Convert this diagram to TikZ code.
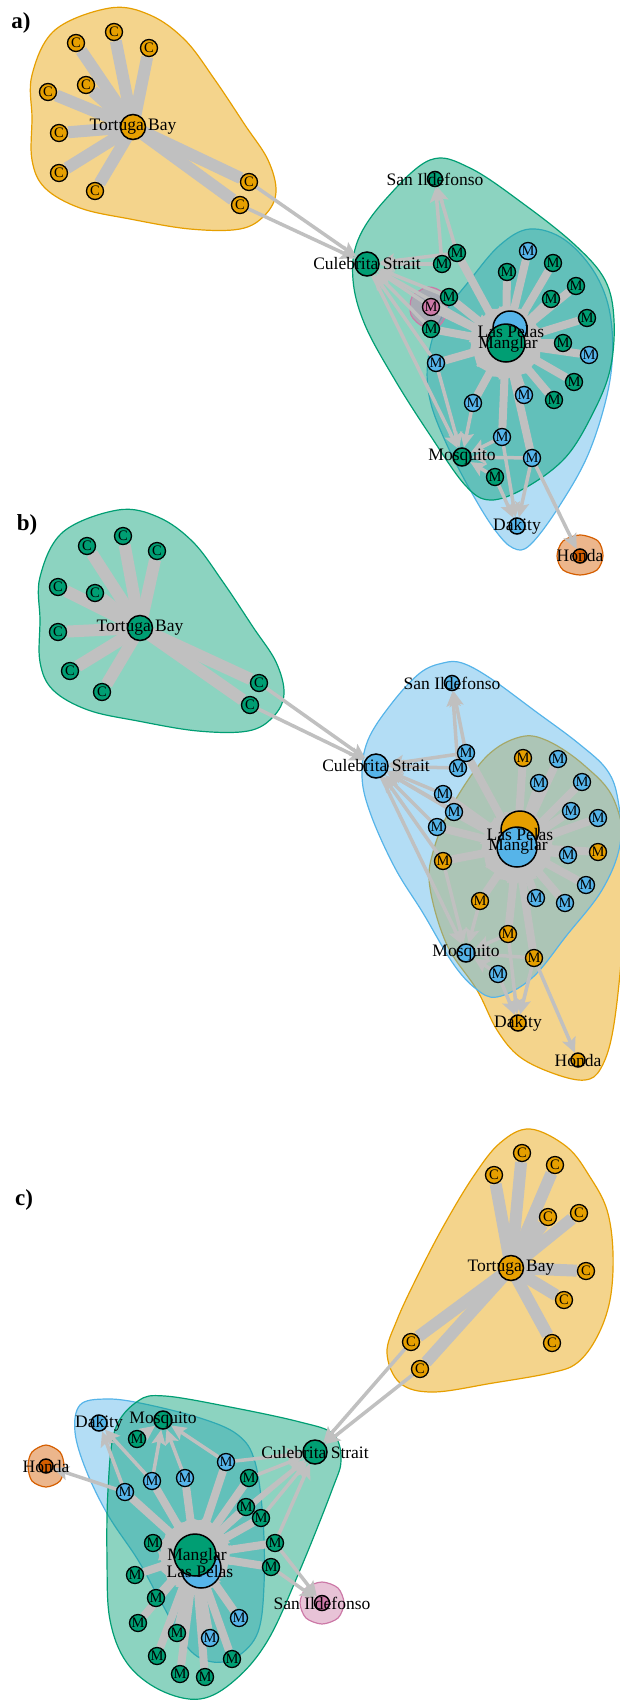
\documentclass[tikz,border=0pt]{standalone}
\usepackage{fontspec}
\setmainfont{Liberation Serif}
\usetikzlibrary{arrows.meta}
\definecolor{corange}{HTML}{E69F00}
\definecolor{cgreen}{HTML}{009E73}
\definecolor{cblue}{HTML}{56B4E9}
\definecolor{cpink}{HTML}{CC79A7}
\definecolor{cred}{HTML}{D55E00}
\definecolor{edgegray}{RGB}{192,192,192}
\pgfdeclarelayer{hulls}
\pgfdeclarelayer{edges}
\pgfdeclarelayer{labels}
\pgfsetlayers{hulls,edges,main,labels}

\tikzset{
  hull/.style={draw=#1, fill=#1, fill opacity=0.45, line width=1.2pt},
  snode/.style={circle, draw, line width=1.3pt, fill=#1, minimum size=17pt, inner sep=0pt, font=\fontsize{14.5}{14.5}\selectfont},
  hub/.style={circle, draw, line width=1.5pt, fill=#1, inner sep=0pt},
  lbl/.style={font=\fontsize{17.5}{17.5}\selectfont, inner sep=0pt},
  fan/.style={draw=edgegray, line width=12pt},
  spoke/.style={draw=edgegray, line width=8pt, -{Triangle[length=34pt,width=28pt]}},
  link/.style={draw=edgegray, line width=3.5pt, -{Stealth[length=15pt,width=14pt,inset=3pt]}},
  panel/.style={font=\fontsize{23}{23}\selectfont\bfseries, inner sep=0pt}
}

\begin{document}
\begin{tikzpicture}[x=1pt, y=-1pt]
\useasboundingbox (0,0) rectangle (619,1701);

% ---------- a)
\node[panel] (pa) at (21,23) {a)};
\begin{pgfonlayer}{hulls}
  \draw[hull=corange] plot[smooth cycle, tension=0.6] coordinates {(32,75) (55,30) (110,8) (150,15) (185,40) (215,80) (245,125) (268,160) (276,192) (265,215) (240,229) (190,229) (130,219) (80,208) (45,188) (32,160) (32,118)};
  \draw[hull=cblue] plot[smooth cycle, tension=0.6] coordinates {(530,229) (565,240) (596,275) (611,320) (610,380) (590,450) (560,505) (530,545) (513,548) (495,530) (473,495) (447,445) (430,400) (428,360) (440,320) (470,280) (500,245)};
  \draw[hull=cgreen] plot[smooth cycle, tension=0.6] coordinates {(430,160) (470,168) (525,205) (575,245) (605,280) (614,320) (610,370) (592,415) (565,458) (525,488) (490,500) (465,485) (430,435) (395,380) (365,325) (353,280) (358,240) (385,200)};
  \draw[hull=cpink] plot[smooth cycle] coordinates {(428,287) (443,293) (447,310) (440,325) (424,327) (411,315) (412,297)};
  \draw[hull=cred] plot[smooth cycle] coordinates {(580,535) (598,541) (603,556) (597,570) (580,575) (563,570) (557,556) (563,541)};
\end{pgfonlayer}

\node[hub=corange, minimum size=25pt] (aTB) at (133,127) {};
\foreach \n/\x/\y in {1/76/43, 2/114/32, 3/149/48, 4/86/85, 5/48/92, 6/59/133, 7/59/173, 8/95/191, 9/249/182, 10/240/205}
  \node[snode=corange] (aC\n) at (\x,\y) {C};
\node[hub=cgreen, minimum size=24pt] (aCS) at (367,264) {};
\node[hub=cgreen, minimum size=15pt] (aSI) at (435,179) {};
\node[hub=cblue, minimum size=34pt] (aLP) at (510,328) {};
\node[hub=cgreen, minimum size=38pt] (aMG) at (506,343) {};
\node[hub=cgreen, minimum size=18pt] (aMQ) at (462,457) {};
\node[hub=cblue, minimum size=16pt] (aDK) at (517,526) {};
\node[hub=cred, minimum size=14pt] (aHO) at (580,556) {};
\foreach \n/\x/\y/\col in {1/457/253/cgreen, 2/442/264/cgreen, 3/449/297/cgreen, 4/431/307/cpink, 5/431/329/cgreen, 6/436/363/cblue, 7/528/251/cblue, 8/507/272/cgreen, 9/553/263/cgreen, 10/576/286/cgreen, 11/551/299/cgreen, 12/587/318/cgreen, 13/563/343/cgreen, 14/589/355/cblue, 15/574/382/cgreen, 16/524/395/cblue, 17/554/400/cgreen, 18/473/403/cblue, 19/502/437/cblue, 20/532/458/cblue, 21/495/477/cgreen}
  \node[snode=\col] (aM\n) at (\x,\y) {M};

\begin{pgfonlayer}{edges}
  \foreach \n in {1,...,10}
    \draw[fan] (aC\n) -- (aTB.center);
  \foreach \n in {1,3,4,...,20}
    \draw[spoke] (aM\n) -- (aMG.center);
  \foreach \i/\j in {aC9/aCS, aC10/aCS, aM1/aSI, aM2/aSI, aM1/aCS, aM2/aCS, aM3/aCS, aM4/aCS, aM5/aCS, aM6/aCS, aMG/aCS, aCS/aMQ, aM6/aMQ, aM18/aMQ, aM19/aMQ, aM20/aMQ, aM21/aMQ, aM19/aDK, aM20/aDK, aM21/aDK, aM20/aHO}
    \draw[link] (\i) -- (\j);
\end{pgfonlayer}

\begin{pgfonlayer}{labels}
  \node[lbl] (aTBl) at (aTB) {Tortuga Bay};
  \node[lbl] (aCSl) at (aCS) {Culebrita Strait};
  \node[lbl] (aSIl) at (aSI) {San Ildefonso};
  \node[lbl] (aLPl) at (511,332) {Las Pelas};
  \node[lbl] (aMGl) at (508,344) {Manglar};
  \node[lbl] (aMQl) at (aMQ) {Mosquito};
  \node[lbl] (aDKl) at (aDK) {Dakity};
  \node[lbl] (aHOl) at (aHO) {Honda};
\end{pgfonlayer}

% ---------- b)
\node[panel] (pb) at (27,525) {b)};
\begin{pgfonlayer}{hulls}
  \draw[hull=cgreen] plot[smooth cycle, tension=0.6] coordinates {(40,577) (63,532) (118,510) (158,517) (193,542) (223,582) (253,627) (276,662) (284,694) (273,717) (248,731) (198,731) (138,721) (88,710) (53,690) (40,662) (40,620)};
  \draw[hull=corange] plot[smooth cycle, tension=0.6] coordinates {(520,737) (548,741) (585,766) (614,800) (626,860) (622,950) (613,1030) (601,1068) (585,1080) (555,1074) (520,1057) (497,1030) (477,990) (447,945) (430,888) (433,852) (452,806) (486,757)};
  \draw[hull=cblue] plot[smooth cycle, tension=0.6] coordinates {(443,663) (462,663) (490,678) (535,711) (578,743) (607,770) (618,800) (620,845) (602,890) (567,935) (532,978) (497,997) (475,988) (452,962) (423,913) (395,868) (371,815) (362,777) (368,740) (392,703) (420,673)};
\end{pgfonlayer}

\node[hub=cgreen, minimum size=25pt] (bTB) at (140,628) {};
\foreach \n/\x/\y in {1/87/546, 2/123/536, 3/157/551, 4/95/593, 5/58/587, 6/58/632, 7/70/671, 8/102/692, 9/259/683, 10/250/705}
  \node[snode=cgreen] (bC\n) at (\x,\y) {C};
\node[hub=cblue, minimum size=24pt] (bCS) at (376,766) {};
\node[hub=cblue, minimum size=15pt] (bSI) at (452,683) {};
\node[hub=corange, minimum size=38pt] (bLP) at (520,830) {};
\node[hub=cblue, minimum size=40pt] (bMG) at (517,847) {};
\node[hub=cblue, minimum size=18pt] (bMQ) at (466,953) {};
\node[hub=corange, minimum size=16pt] (bDK) at (518,1023) {};
\node[hub=corange, minimum size=14pt] (bHO) at (578,1060) {};
\foreach \n/\x/\y/\col in {1/466/753/cblue, 2/458/768/cblue, 3/443/794/cblue, 4/454/812/cblue, 5/437/827/cblue, 6/443/861/corange, 7/523/758/corange, 8/558/759/cblue, 9/539/783/cblue, 10/582/782/cblue, 11/571/811/cblue, 12/598/818/cblue, 13/568/855/cblue, 14/598/852/corange, 15/586/885/cblue, 16/536/898/cblue, 17/565/903/cblue, 18/480/901/corange, 19/508/934/corange, 20/534/958/corange, 21/498/974/cblue}
  \node[snode=\col] (bM\n) at (\x,\y) {M};

\begin{pgfonlayer}{edges}
  \foreach \n in {1,...,10}
    \draw[fan] (bC\n) -- (bTB.center);
  \foreach \n in {1,3,4,...,20}
    \draw[spoke] (bM\n) -- (bMG.center);
  \foreach \i/\j in {bC9/bCS, bC10/bCS, bM1/bSI, bM2/bSI, bM1/bCS, bM2/bCS, bM3/bCS, bM4/bCS, bM5/bCS, bM6/bCS, bMG/bCS, bCS/bMQ, bM6/bMQ, bM18/bMQ, bM19/bMQ, bM20/bMQ, bM21/bMQ, bM19/bDK, bM20/bDK, bM21/bDK, bM20/bHO}
    \draw[link] (\i) -- (\j);
\end{pgfonlayer}

\begin{pgfonlayer}{labels}
  \node[lbl] (bTBl) at (bTB) {Tortuga Bay};
  \node[lbl] (bCSl) at (bCS) {Culebrita Strait};
  \node[lbl] (bSIl) at (bSI) {San Ildefonso};
  \node[lbl] (bLPl) at (520,835) {Las Pelas};
  \node[lbl] (bMGl) at (518,846) {Manglar};
  \node[lbl] (bMQl) at (bMQ) {Mosquito};
  \node[lbl] (bDKl) at (bDK) {Dakity};
  \node[lbl] (bHOl) at (bHO) {Honda};
\end{pgfonlayer}

% ---------- c)
\node[panel] (pc) at (24,1200) {c)};
\begin{pgfonlayer}{hulls}
  \draw[hull=corange] plot[smooth cycle, tension=0.6] coordinates {(530,1129) (567,1147) (590,1177) (607,1210) (613,1253) (610,1300) (597,1337) (577,1363) (550,1373) (493,1383) (433,1392) (400,1383) (387,1353) (397,1320) (417,1277) (443,1227) (473,1177) (500,1143)};
  \draw[hull=cblue] plot[smooth cycle, tension=0.6] coordinates {(80,1405) (105,1399) (140,1403) (200,1418) (238,1435) (255,1462) (263,1520) (264,1585) (258,1632) (238,1656) (213,1662) (188,1648) (160,1600) (138,1560) (108,1515) (86,1470) (75,1432)};
  \draw[hull=cgreen] plot[smooth cycle, tension=0.6] coordinates {(165,1396) (230,1407) (300,1422) (333,1434) (341,1460) (332,1490) (300,1570) (268,1640) (235,1680) (200,1699) (160,1690) (127,1663) (110,1620) (107,1560) (108,1490) (115,1430) (138,1401)};
  \draw[hull=cred] plot[smooth cycle] coordinates {(46,1445) (60,1452) (64,1466) (60,1481) (46,1487) (32,1481) (28,1466) (32,1452)};
  \draw[hull=cpink] plot[smooth cycle] coordinates {(322,1582) (338,1588) (344,1603) (338,1618) (322,1624) (306,1618) (300,1603) (306,1588)};
\end{pgfonlayer}

\node[hub=corange, minimum size=25pt] (cTB) at (511,1268) {};
\foreach \n/\x/\y in {1/522/1153, 2/555/1165, 3/494/1175, 4/548/1217, 5/579/1213, 6/586/1271, 7/564/1300, 8/552/1343, 9/411/1342, 10/420/1369}
  \node[snode=corange] (cC\n) at (\x,\y) {C};
\node[hub=cgreen, minimum size=24pt] (cCS) at (315,1452) {};
\node[hub=cpink, minimum size=15pt] (cSI) at (322,1603) {};
\node[hub=cblue, minimum size=40pt] (cLP) at (201,1568) {};
\node[hub=cgreen, minimum size=42pt] (cMG) at (195,1555) {};
\node[hub=cgreen, minimum size=18pt] (cMQ) at (163,1420) {};
\node[hub=cblue, minimum size=16pt] (cDK) at (99,1423) {};
\node[hub=cred, minimum size=14pt] (cHO) at (46,1466) {};
\foreach \n/\x/\y/\col in {1/137/1439/cgreen, 2/226/1462/cblue, 3/249/1478/cgreen, 4/152/1481/cblue, 5/185/1478/cblue, 6/125/1492/cblue, 7/246/1507/cgreen, 8/261/1518/cgreen, 9/153/1543/cgreen, 10/275/1543/cgreen, 11/271/1567/cgreen, 12/135/1575/cgreen, 13/156/1598/cgreen, 14/138/1623/cgreen, 15/239/1618/cblue, 16/177/1633/cgreen, 17/210/1638/cblue, 18/157/1656/cgreen, 19/232/1659/cgreen, 20/180/1674/cgreen, 21/205/1677/cgreen}
  \node[snode=\col] (cM\n) at (\x,\y) {M};

\begin{pgfonlayer}{edges}
  \foreach \n in {1,...,10}
    \draw[fan] (cC\n) -- (cTB.center);
  \foreach \n in {2,...,21}
    \draw[spoke] (cM\n) -- (cMG.center);
  \foreach \i/\j in {cC9/cCS, cC10/cCS, cM2/cCS, cM3/cCS, cM7/cCS, cM8/cCS, cM10/cCS, cMG/cCS, cM10/cSI, cM11/cSI, cM1/cMQ, cM2/cMQ, cM4/cMQ, cM5/cMQ, cM4/cDK, cM6/cDK, cM6/cHO}
    \draw[link] (\i) -- (\j);
\end{pgfonlayer}

\begin{pgfonlayer}{labels}
  \node[lbl] (cTBl) at (cTB) {Tortuga Bay};
  \node[lbl] (cCSl) at (cCS) {Culebrita Strait};
  \node[lbl] (cSIl) at (cSI) {San Ildefonso};
  \node[lbl] (cMGl) at (197,1556) {Manglar};
  \node[lbl] (cLPl) at (200,1571) {Las Pelas};
  \node[lbl] (cMQl) at (cMQ) {Mosquito};
  \node[lbl] (cDKl) at (cDK) {Dakity};
  \node[lbl] (cHOl) at (cHO) {Honda};
\end{pgfonlayer}
\end{tikzpicture}
\end{document}
